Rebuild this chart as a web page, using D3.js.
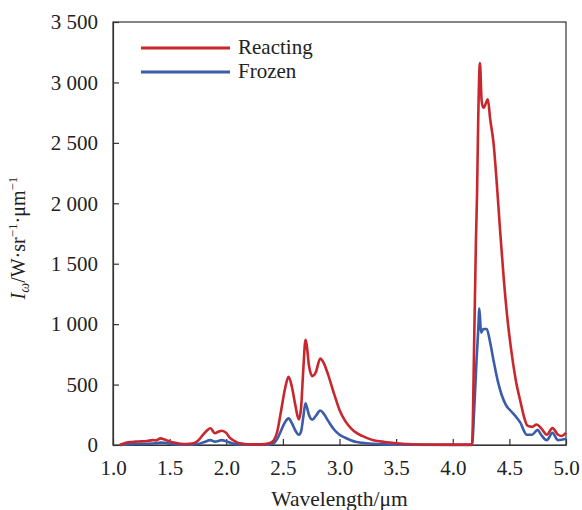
<!DOCTYPE html>
<html><head><meta charset="utf-8">
<script src="https://cdn.jsdelivr.net/npm/d3@7"></script>
<style>
html,body{margin:0;padding:0;background:#fff;}
svg text{font-family:"Liberation Serif","Times New Roman",serif;fill:#222;}
</style></head>
<body><svg id="chart" width="582" height="510"></svg>
<script>
const seriesNames = ["Reacting", "Frozen"];
const seriesColors = ["#c8272d", "#3b5ca9"];

const reactingWl = [1.06,1.1,1.15,1.2,1.25,1.3,1.35,1.38,1.42,1.45,1.5,1.55,1.6,1.65,1.7,1.75,1.8,1.83,1.86,1.9,1.93,1.96,2.0,2.03,2.07,2.1,2.15,2.2,2.3,2.38,2.42,2.45,2.48,2.52,2.55,2.58,2.61,2.64,2.66,2.68,2.70,2.71,2.73,2.76,2.79,2.83,2.86,2.9,2.95,3.0,3.05,3.1,3.15,3.2,3.25,3.3,3.4,3.5,3.6,3.8,4.0,4.17,4.19,4.205,4.215,4.225,4.24,4.255,4.27,4.28,4.31,4.33,4.36,4.39,4.42,4.45,4.48,4.52,4.56,4.6,4.63,4.66,4.7,4.74,4.78,4.83,4.88,4.93,4.96,5.0];
const reactingI = [0,15,25,28,30,33,40,38,55,48,30,18,10,8,12,35,90,120,138,97,110,118,100,60,35,20,10,5,5,15,40,110,260,470,565,480,330,212,300,620,870,830,660,570,600,715,680,580,430,290,200,140,100,75,55,40,25,15,8,4,3,3,900,1700,2100,2700,3160,2850,2790,2800,2860,2700,2500,2150,1750,1380,1070,760,520,350,230,160,150,170,140,85,140,85,75,100];

const frozenWl = [1.06,1.1,1.2,1.3,1.38,1.42,1.46,1.5,1.55,1.6,1.7,1.75,1.8,1.86,1.9,1.96,2.0,2.05,2.1,2.2,2.35,2.42,2.45,2.48,2.52,2.55,2.58,2.61,2.64,2.66,2.68,2.70,2.71,2.73,2.76,2.79,2.83,2.86,2.9,2.95,3.0,3.05,3.1,3.15,3.2,3.3,3.4,3.6,4.0,4.17,4.19,4.21,4.225,4.235,4.25,4.27,4.3,4.33,4.36,4.4,4.43,4.47,4.52,4.57,4.6,4.63,4.65,4.7,4.75,4.78,4.83,4.88,4.93,4.97,5.0];
const frozenI = [0,3,8,10,15,20,18,10,5,2,2,8,22,40,28,40,32,15,5,2,2,15,50,110,190,220,180,120,85,110,230,345,320,250,210,240,285,260,200,130,85,60,40,25,18,10,5,2,1,1,300,700,950,1130,930,960,960,850,700,520,420,330,275,220,180,115,85,85,125,85,40,100,40,45,50];

const xTicks = [1.0,1.5,2.0,2.5,3.0,3.5,4.0,4.5,5.0];
const yTicks = [0,500,1000,1500,2000,2500,3000,3500];

const margin = {left:113, right:16, top:22, bottom:65};
const W = 582, H = 510;
const svg = d3.select("#chart");
const x = d3.scaleLinear().domain([1.0,5.0]).range([margin.left, W-margin.right]);
const y = d3.scaleLinear().domain([0,3500]).range([H-margin.bottom, margin.top]);

const loc = d3.formatLocale({decimal:".", thousands:" ", grouping:[3], currency:["",""]});
const yFmt = loc.format(",");

// frame
svg.append("rect").attr("x",x(1)).attr("y",y(3500)).attr("width",x(5)-x(1)).attr("height",y(0)-y(3500))
  .attr("fill","none").attr("stroke","#333").attr("stroke-width",1.2);

const xAxis = svg.append("g").attr("transform",`translate(0,${y(0)})`)
  .call(d3.axisBottom(x).tickValues(xTicks).tickFormat(d3.format(".1f")).tickSizeInner(-6).tickSizeOuter(0).tickPadding(15));
const yAxis = svg.append("g").attr("transform",`translate(${x(1)},0)`)
  .call(d3.axisLeft(y).tickValues(yTicks).tickFormat(yFmt).tickSizeInner(-6).tickSizeOuter(0).tickPadding(15));
[xAxis,yAxis].forEach(g=>{
  g.select(".domain").attr("stroke","#333").attr("stroke-width",1.2);
  g.selectAll(".tick line").attr("stroke","#333").attr("stroke-width",1.2);
  g.selectAll(".tick text").attr("font-size",21).attr("font-family","Liberation Serif").attr("fill","#222");
});

const line = d3.line().x(d=>x(d[0])).y(d=>y(d[1])).curve(d3.curveMonotoneX);
const series = [
  {name:seriesNames[0], color:seriesColors[0], data:reactingWl.map((w,i)=>[w,reactingI[i]])},
  {name:seriesNames[1], color:seriesColors[1], data:frozenWl.map((w,i)=>[w,frozenI[i]])}
];
series.slice().reverse().forEach(s=>{
  svg.append("path").datum(s.data).attr("d",line).attr("fill","none")
    .attr("stroke",s.color).attr("stroke-width",2.6).attr("stroke-linejoin","round");
});

// legend
series.forEach((s,i)=>{
  const ly = 48 + i*24;
  svg.append("line").attr("x1",141).attr("x2",230).attr("y1",ly).attr("y2",ly)
    .attr("stroke",s.color).attr("stroke-width",3);
  svg.append("text").attr("x",238).attr("y",ly+6).attr("font-size",21).text(s.name);
});

// axis titles
svg.append("text").attr("x",(x(1)+x(5))/2).attr("y",506).attr("text-anchor","middle")
  .attr("font-size",21.5).text("Wavelength/μm");

const yl = svg.append("text").attr("transform","translate(25,238) rotate(-90)")
  .attr("text-anchor","middle").attr("font-size",20);
yl.append("tspan").attr("font-style","italic").text("I");
yl.append("tspan").attr("font-style","italic").attr("font-size",14).attr("dy",4).text("ω");
yl.append("tspan").attr("dy",-4).text("/W·sr");
yl.append("tspan").attr("font-size",13).attr("dy",-8).text("−1");
yl.append("tspan").attr("dy",8).text("·μm");
yl.append("tspan").attr("font-size",13).attr("dy",-8).text("−1");
</script></body></html>
